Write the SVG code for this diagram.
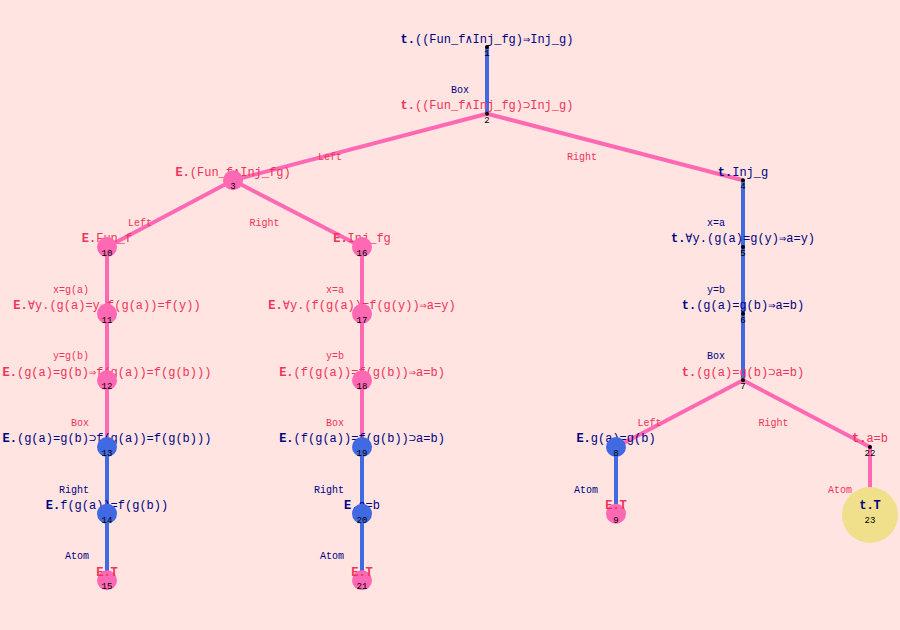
<svg xmlns="http://www.w3.org/2000/svg" width="900" height="630" viewBox="0 0 900 630">
<style>
text{font-family:"Liberation Mono","DejaVu Sans Mono",monospace}
.lb{font-size:12px;text-anchor:middle}
.el{font-size:10px;text-anchor:end}
.num{font-size:9px;text-anchor:middle;fill:#000}
.nv{fill:#000080}
.rd{fill:#F0325A}
.p{font-weight:bold}
.eb{stroke:#4169E1;stroke-width:4;fill:none}
.ep{stroke:#FF69B4;stroke-width:4;fill:none}
.cp{fill:#FF69B4}
.cb{fill:#4169E1}
.cy{fill:#F0E08C}
.dot{fill:#000}
</style>
<rect width="900" height="630" fill="#FFE4E1"/>
<g id="connectors">
<line class="eb" x1="487" y1="47" x2="487" y2="113.7"/>
<line class="ep" x1="487" y1="113.7" x2="233" y2="180.3"/>
<line class="ep" x1="487" y1="113.7" x2="743" y2="180.3"/>
<line class="ep" x1="233" y1="180.3" x2="107" y2="247"/>
<line class="ep" x1="233" y1="180.3" x2="362" y2="247"/>
<line class="ep" x1="107" y1="247" x2="107" y2="447"/>
<line class="eb" x1="107" y1="447" x2="107" y2="580.3"/>
<line class="ep" x1="362" y1="247" x2="362" y2="447"/>
<line class="eb" x1="362" y1="447" x2="362" y2="580.3"/>
<line class="eb" x1="743" y1="180.3" x2="743" y2="380.3"/>
<line class="ep" x1="743" y1="380.3" x2="616" y2="447"/>
<line class="ep" x1="743" y1="380.3" x2="870" y2="447"/>
<line class="eb" x1="616" y1="447" x2="616" y2="513.7"/>
<line class="ep" x1="870" y1="447" x2="870" y2="513.7"/>
<text class="el nv" x="469" y="92.5">Box</text>
<text class="el rd" x="342" y="159.5">Left</text>
<text class="el rd" x="597" y="159.5">Right</text>
<text class="el rd" x="152" y="226">Left</text>
<text class="el rd" x="279.5" y="226">Right</text>
<text class="el rd" x="89" y="292.5">x=g(a)</text>
<text class="el rd" x="89" y="359.3">y=g(b)</text>
<text class="el rd" x="89" y="426">Box</text>
<text class="el nv" x="89" y="492.5">Right</text>
<text class="el nv" x="89" y="559.3">Atom</text>
<text class="el rd" x="344" y="292.5">x=a</text>
<text class="el rd" x="344" y="359.3">y=b</text>
<text class="el rd" x="344" y="426">Box</text>
<text class="el nv" x="344" y="492.5">Right</text>
<text class="el nv" x="344" y="559.3">Atom</text>
<text class="el nv" x="725" y="226">x=a</text>
<text class="el nv" x="725" y="292.5">y=b</text>
<text class="el nv" x="725" y="359.3">Box</text>
<text class="el rd" x="661.5" y="426">Left</text>
<text class="el rd" x="788.5" y="426">Right</text>
<text class="el nv" x="598" y="492.5">Atom</text>
<text class="el rd" x="852" y="492.5">Atom</text>
</g>
<g id="n1"><text class="lb nv" x="487" y="42.5"><tspan class="p">t.</tspan>((Fun_f∧Inj_fg)⇒Inj_g)</text><circle class="dot" cx="487" cy="47" r="2"/><text class="num" x="487" y="56">1</text></g>
<g id="n2"><text class="lb rd" x="487" y="109"><tspan class="p">t.</tspan>((Fun_f∧Inj_fg)⊃Inj_g)</text><circle class="dot" cx="487" cy="113.7" r="2"/><text class="num" x="487" y="122.7">2</text></g>
<g id="n3"><text class="lb rd" x="233" y="175.5"><tspan class="p">E.</tspan>(Fun_f∧Inj_fg)</text><circle class="cp" cx="233" cy="180.3" r="10"/><text class="num" x="233" y="189.3">3</text></g>
<g id="n4"><text class="lb nv" x="743" y="175.5"><tspan class="p">t.</tspan>Inj_g</text><circle class="dot" cx="743" cy="180.3" r="2"/><text class="num" x="743" y="189.3">4</text></g>
<g id="n5"><text class="lb nv" x="743" y="242.3"><tspan class="p">t.</tspan>∀y.(g(a)=g(y)⇒a=y)</text><circle class="dot" cx="743" cy="247" r="2"/><text class="num" x="743" y="256">5</text></g>
<g id="n6"><text class="lb nv" x="743" y="309"><tspan class="p">t.</tspan>(g(a)=g(b)⇒a=b)</text><circle class="dot" cx="743" cy="313.7" r="2"/><text class="num" x="743" y="322.7">6</text></g>
<g id="n7"><text class="lb rd" x="743" y="375.5"><tspan class="p">t.</tspan>(g(a)=g(b)⊃a=b)</text><circle class="dot" cx="743" cy="380.3" r="2"/><text class="num" x="743" y="389.3">7</text></g>
<g id="n8"><text class="lb nv" x="616" y="442.3"><tspan class="p">E.</tspan>g(a)=g(b)</text><circle class="cb" cx="616" cy="447" r="10"/><text class="num" x="616" y="456">8</text></g>
<g id="n9"><circle class="cp" cx="616" cy="513.7" r="10"/><text class="lb rd p" x="616" y="509">E.T</text><text class="num" x="616" y="522.7">9</text></g>
<g id="n10"><text class="lb rd" x="107" y="242.3"><tspan class="p">E.</tspan>Fun_f</text><circle class="cp" cx="107" cy="247" r="10"/><text class="num" x="107" y="256">10</text></g>
<g id="n11"><text class="lb rd" x="107" y="309"><tspan class="p">E.</tspan>∀y.(g(a)=y⇒f(g(a))=f(y))</text><circle class="cp" cx="107" cy="313.7" r="10"/><text class="num" x="107" y="322.7">11</text></g>
<g id="n12"><text class="lb rd" x="107" y="375.5"><tspan class="p">E.</tspan>(g(a)=g(b)⇒f(g(a))=f(g(b)))</text><circle class="cp" cx="107" cy="380.3" r="10"/><text class="num" x="107" y="389.3">12</text></g>
<g id="n13"><text class="lb nv" x="107" y="442.3"><tspan class="p">E.</tspan>(g(a)=g(b)⊃f(g(a))=f(g(b)))</text><circle class="cb" cx="107" cy="447" r="10"/><text class="num" x="107" y="456">13</text></g>
<g id="n14"><text class="lb nv" x="107" y="509"><tspan class="p">E.</tspan>f(g(a))=f(g(b))</text><circle class="cb" cx="107" cy="513.7" r="10"/><text class="num" x="107" y="522.7">14</text></g>
<g id="n15"><circle class="cp" cx="107" cy="580.3" r="10"/><text class="lb rd p" x="107" y="575.5">E.T</text><text class="num" x="107" y="589.3">15</text></g>
<g id="n16"><text class="lb rd" x="362" y="242.3"><tspan class="p">E.</tspan>Inj_fg</text><circle class="cp" cx="362" cy="247" r="10"/><text class="num" x="362" y="256">16</text></g>
<g id="n17"><text class="lb rd" x="362" y="309"><tspan class="p">E.</tspan>∀y.(f(g(a))=f(g(y))⇒a=y)</text><circle class="cp" cx="362" cy="313.7" r="10"/><text class="num" x="362" y="322.7">17</text></g>
<g id="n18"><text class="lb rd" x="362" y="375.5"><tspan class="p">E.</tspan>(f(g(a))=f(g(b))⇒a=b)</text><circle class="cp" cx="362" cy="380.3" r="10"/><text class="num" x="362" y="389.3">18</text></g>
<g id="n19"><text class="lb nv" x="362" y="442.3"><tspan class="p">E.</tspan>(f(g(a))=f(g(b))⊃a=b)</text><circle class="cb" cx="362" cy="447" r="10"/><text class="num" x="362" y="456">19</text></g>
<g id="n20"><text class="lb nv" x="362" y="509"><tspan class="p">E.</tspan>a=b</text><circle class="cb" cx="362" cy="513.7" r="10"/><text class="num" x="362" y="522.7">20</text></g>
<g id="n21"><circle class="cp" cx="362" cy="580.3" r="10"/><text class="lb rd p" x="362" y="575.5">E.T</text><text class="num" x="362" y="589.3">21</text></g>
<g id="n22"><text class="lb rd" x="870" y="442.3"><tspan class="p">t.</tspan>a=b</text><circle class="dot" cx="870" cy="447" r="2"/><text class="num" x="870" y="456">22</text></g>
<g id="n23"><circle class="cy" cx="870" cy="515" r="28"/><text class="lb nv p" x="870" y="509">t.T</text><text class="num" x="870" y="522.7">23</text></g>
</svg>
